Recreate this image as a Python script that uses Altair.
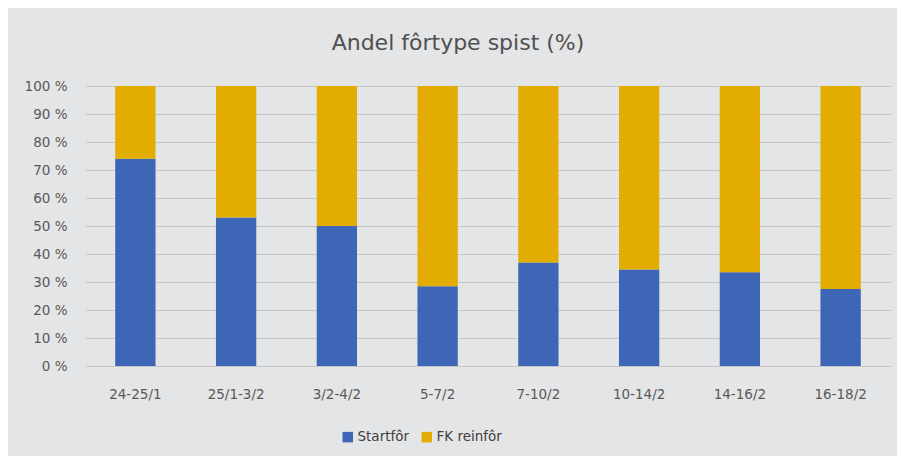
import altair as alt
import pandas as pd

periods = ["24-25/1", "25/1-3/2", "3/2-4/2", "5-7/2", "7-10/2", "10-14/2", "14-16/2", "16-18/2"]
startfor = [74, 53, 50, 28.5, 37, 34.5, 33.5, 27.5]
fk_reinfor = [26, 47, 50, 71.5, 63, 65.5, 66.5, 72.5]
series = ["Startfôr", "FK reinfôr"]
colors = ["#3e66b6", "#e2ac00"]

rows = []
for p, a, b in zip(periods, startfor, fk_reinfor):
    rows.append({"period": p, "series": series[0], "value": a, "o": 0})
    rows.append({"period": p, "series": series[1], "value": b, "o": 1})
df = pd.DataFrame(rows)

font = "DejaVu Sans"

chart = (
    alt.Chart(df)
    .mark_bar()
    .encode(
        x=alt.X(
            "period:N",
            sort=periods,
            title=None,
            scale=alt.Scale(paddingInner=0.6, paddingOuter=0.3),
            axis=alt.Axis(
                labelAngle=0,
                domain=False,
                ticks=False,
                labelPadding=21,
                labelFontSize=13.5,
                labelColor="#595959",
                labelFont=font,
            ),
        ),
        y=alt.Y(
            "value:Q",
            stack="zero",
            title=None,
            scale=alt.Scale(domain=[0, 100], nice=False),
            axis=alt.Axis(
                values=list(range(0, 101, 10)),
                labelExpr="datum.value + ' %'",
                domain=False,
                ticks=False,
                labelPadding=18,
                labelFontSize=13.5,
                labelColor="#595959",
                labelFont=font,
                gridColor="#c6c6c6",
                gridWidth=1,
            ),
        ),
        color=alt.Color(
            "series:N",
            scale=alt.Scale(domain=series, range=colors),
            legend=alt.Legend(
                title=None,
                orient="none",
                direction="horizontal",
                legendX=256,
                legendY=344,
                symbolType="square",
                symbolSize=110,
                symbolStrokeWidth=0,
                labelFontSize=13.5,
                labelFont=font,
                labelColor="#404040",
                columnPadding=10,
                labelOffset=3,
            ),
        ),
        order=alt.Order("o:Q", sort="ascending"),
    )
    .properties(
        width=806,
        height=280,
        autosize=alt.AutoSizeParams(type="none"),
        padding={"left": 77, "top": 78, "right": 6, "bottom": 90},
        background="#e4e5e6",
        title=alt.TitleParams(
            "Andel fôrtype spist (%)",
            fontSize=22,
            font=font,
            fontWeight="normal",
            color="#505050",
            anchor="middle",
            dx=-30,
            offset=24,
        ),
    )
    .configure_view(stroke=None)
)

chart.save("out.html", embed_options={"renderer": "svg", "actions": False})
